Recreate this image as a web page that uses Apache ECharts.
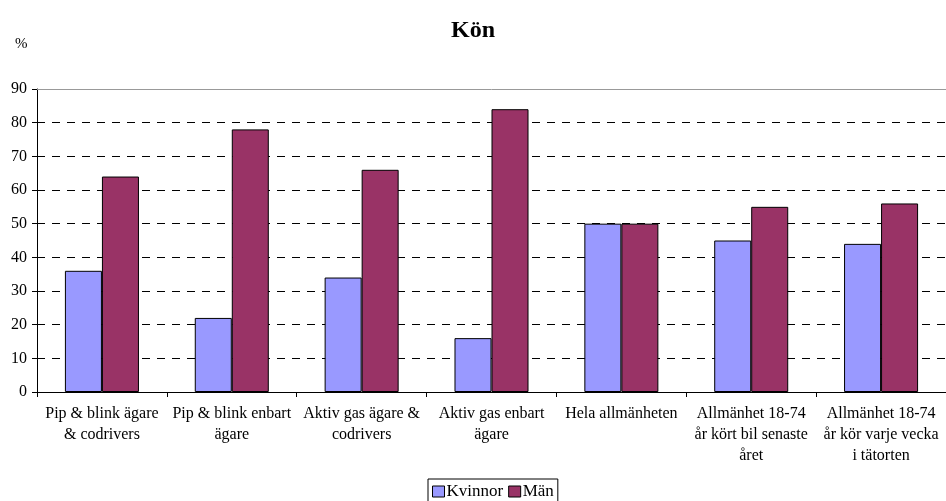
<!DOCTYPE html>
<html>
<head>
<meta charset="utf-8">
<title>Kön</title>
<script src="https://cdn.jsdelivr.net/npm/echarts@6/dist/echarts.min.js"></script>
<style>
    html, body { margin: 0; padding: 0; background: #fff; }
    #chart { width: 946px; height: 501px; }
</style>
</head>
<body>
<div id="chart"></div>
<script>
// 数据
const categories = [
    'Pip & blink ägare\n& codrivers',
    'Pip & blink enbart\nägare',
    'Aktiv gas ägare &\ncodrivers',
    'Aktiv gas enbart\nägare',
    'Hela allmänheten',
    'Allmänhet 18-74\når kört bil senaste\nåret',
    'Allmänhet 18-74\når kör varje vecka\ni tätorten'
];
const kvinnor = [36, 22, 34, 16, 50, 45, 44];
const man = [64, 78, 66, 84, 50, 55, 56];

const serif = '"Liberation Serif", "DejaVu Serif", serif';

document.addEventListener('DOMContentLoaded', () => {
    const myChart = echarts.init(document.getElementById('chart'));

    const option = {
        animation: false,
        title: {
            text: 'Kön',
            left: 'center',
            top: 14,
            textStyle: { fontFamily: serif, fontSize: 24, fontWeight: 'bold', color: '#000' }
        },
        graphic: [{
            type: 'text',
            left: 15,
            top: 37,
            style: { text: '%', font: '15px ' + serif, fill: '#000' }
        }],
        legend: {
            top: 479,
            left: 428,
            icon: 'rect',
            itemWidth: 12,
            itemHeight: 11,
            itemGap: 5,
            padding: [4, 4, 8, 4],
            borderColor: '#000',
            borderWidth: 1,
            itemStyle: { borderColor: '#000', borderWidth: 1 },
            textStyle: { fontFamily: serif, fontSize: 17, color: '#000', padding: [0, 0, 0, -3] },
            data: ['Kvinnor', 'Män']
        },
        grid: {
            left: 37,
            right: 0,
            top: 89,
            bottom: 109
        },
        xAxis: {
            type: 'category',
            data: categories,
            axisLine: { lineStyle: { color: '#000' } },
            axisTick: { show: true, length: 5, lineStyle: { color: '#000' } },
            axisLabel: {
                interval: 0,
                margin: 11,
                lineHeight: 21,
                fontFamily: serif,
                fontSize: 16,
                color: '#000'
            }
        },
        yAxis: {
            type: 'value',
            min: 0,
            max: 90,
            interval: 10,
            axisLine: { show: true, lineStyle: { color: '#000' } },
            axisTick: { show: true, length: 5, lineStyle: { color: '#000' } },
            axisLabel: { margin: 10, fontFamily: serif, fontSize: 16, color: '#000' },
            splitLine: {
                show: true,
                showMaxLine: false,
                lineStyle: { color: '#000', type: [8, 7], width: 1 }
            }
        },
        series: [
            {
                name: 'Kvinnor',
                type: 'bar',
                data: kvinnor,
                barGap: '0%',
                barCategoryGap: '43%',
                itemStyle: { color: '#9999FF', borderColor: '#000', borderWidth: 1 },
                // 顶部 90 处的实线边框
                markLine: {
                    silent: true,
                    symbol: 'none',
                    label: { show: false },
                    lineStyle: { color: '#999', type: 'solid', width: 1 },
                    data: [{ yAxis: 90 }]
                }
            },
            {
                name: 'Män',
                type: 'bar',
                data: man,
                itemStyle: { color: '#993366', borderColor: '#000', borderWidth: 1 }
            }
        ]
    };

    myChart.setOption(option);
});
</script>
</body>
</html>
